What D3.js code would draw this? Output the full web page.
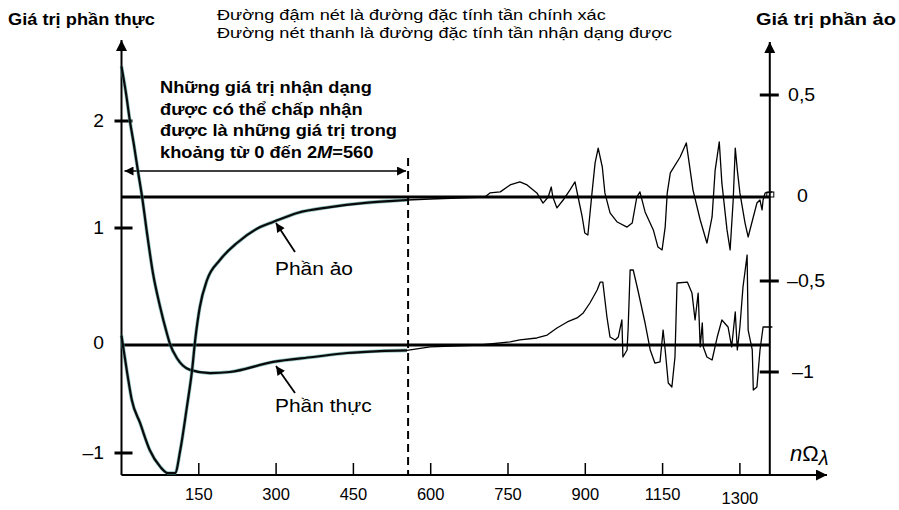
<!DOCTYPE html>
<html><head><meta charset="utf-8">
<script src="https://cdn.jsdelivr.net/npm/d3@7"></script>
<style>
html,body{margin:0;padding:0;background:#fff;}
svg{display:block;}
text{font-family:"Liberation Sans",Arial,sans-serif;fill:#000;}
</style></head>
<body>
<svg id="chart" width="899" height="510"></svg>
<script>
// ---- data ----
const xTickVals = [150, 300, 450, 600, 750, 900, 1050, 1200];
const xTickLabels = ["150", "300", "450", "600", "750", "900", "1150", "1300"];
const realTickVals = [2, 1, 0, -1];
const realTickLabels = ["2", "1", "0", "\u20131"];
const imagTickVals = [0.5, 0, -0.5, -1];
const imagTickLabels = ["0,5", "0", "\u20130,5", "\u20131"];
const limitN = 560;

// exact (thick) real part
const realExactN = [0, 9, 16, 24, 32, 40, 50, 61, 75, 88, 94, 108, 119, 133, 172, 210, 294, 372, 438, 502, 554];
const realExactV = [2.51, 2.25, 2.01, 1.78, 1.53, 1.29, 0.94, 0.615, 0.325, 0.10, 0.01, -0.125, -0.19, -0.23, -0.26, -0.25, -0.157, -0.111, -0.074, -0.056, -0.05];
// exact (thick) imaginary part
const imagExactN = [0, 11, 20, 36, 55, 75, 90, 104, 114, 127, 137, 143, 152, 166, 191, 224, 269, 294, 341, 405, 469, 521, 554];
const imagExactV = [-0.80, -1.005, -1.154, -1.28, -1.43, -1.52, -1.555, -1.555, -1.43, -1.19, -0.989, -0.824, -0.643, -0.494, -0.375, -0.274, -0.179, -0.149, -0.095, -0.060, -0.036, -0.024, -0.018];

// identified (thin) part beyond the exact range
const realIdentN = [554, 599, 696, 754, 773, 806, 826, 845, 865, 884, 896, 909, 923, 929, 934, 942, 948, 958, 964, 971, 973, 981, 983, 987, 993, 1002, 1016, 1026, 1035, 1045, 1051, 1055, 1061, 1068, 1074, 1078, 1098, 1107, 1113, 1119, 1123, 1127, 1129, 1136, 1146, 1156, 1165, 1177, 1184, 1191, 1195, 1200, 1206, 1214, 1216, 1224, 1226, 1233, 1239, 1245, 1263];
const realIdentV = [-0.05, -0.018, 0, 0.026, 0.043, 0.060, 0.085, 0.145, 0.197, 0.231, 0.274, 0.359, 0.470, 0.538, 0.538, 0.239, 0.068, 0.043, 0.068, 0.214, -0.111, -0.046, 0.128, 0.641, 0.641, 0.470, 0.188, -0.046, -0.167, -0.157, 0.128, -0.046, -0.352, -0.389, -0.111, 0.530, 0.538, 0.444, 0.214, 0.444, -0.018, 0.188, -0.018, -0.111, -0.139, 0.068, 0.214, 0.154, -0.018, 0.282, -0.046, 0.154, 0.496, 0.769, 0.128, -0.046, -0.417, -0.389, -0.046, 0.154, 0.154];
const imagIdentN = [554, 599, 705, 715, 735, 754, 773, 787, 806, 818, 828, 834, 837, 845, 857, 870, 880, 886, 894, 899, 905, 913, 919, 925, 933, 938, 948, 962, 981, 991, 1000, 1006, 1016, 1032, 1041, 1049, 1055, 1059, 1065, 1084, 1096, 1109, 1123, 1136, 1146, 1152, 1160, 1165, 1175, 1181, 1187, 1191, 1195, 1200, 1210, 1216, 1226, 1233, 1239, 1243, 1245, 1249, 1263];
const imagIdentV = [-0.018, -0.012, 0, 0.020, 0.025, 0.059, 0.074, 0.059, 0.020, -0.036, 0, 0.049, 0, -0.065, -0.018, 0.034, 0.074, 0, -0.119, -0.214, -0.226, 0.020, 0.167, 0.24, 0.147, 0.020, -0.095, -0.149, -0.179, -0.155, 0, 0.025, -0.089, -0.196, -0.298, -0.315, -0.179, 0.020, 0.118, 0.196, 0.265, 0.034, -0.137, -0.274, -0.119, 0.132, 0.27, 0.069, -0.196, -0.315, -0.018, 0.24, 0.132, 0.020, -0.155, -0.238, -0.119, -0.036, -0.018, -0.077, -0.018, 0.020, 0.025];

// ---- scales ----
const svg = d3.select("#chart");
svg.append("rect").attr("width", 899).attr("height", 510).attr("fill", "#fff");
const x = d3.scaleLinear().domain([0, 1200]).range([121.5, 739.9]);
const yReal = d3.scaleLinear().domain([-1, 0, 1, 2]).range([453, 345, 228, 121]);
const yImag = d3.scaleLinear().domain([-1, -0.5, 0, 0.5]).range([372, 281, 197, 95]);
const xAxisEnd = 1369, xRightAxis = 1258;
const yBottom = 475, yTop = 40;

// horizontal stretch helper (reference font is wider than Arial)
function stretchTo(sel, ax, target) {
  const w = sel.node().getBBox().width;
  const s = target / w;
  sel.attr("transform", `translate(${ax},0) scale(${s},1) translate(${-ax},0)`);
  return s;
}
function stretchBy(sel, ax, s) {
  sel.attr("transform", `translate(${ax},0) scale(${s},1) translate(${-ax},0)`);
}

const defs = svg.append("defs");
defs.append("marker").attr("id", "ah").attr("viewBox", "0 0 10 10").attr("refX", 10).attr("refY", 5)
  .attr("markerWidth", 13).attr("markerHeight", 11).attr("markerUnits", "userSpaceOnUse").attr("orient", "auto-start-reverse")
  .append("path").attr("d", "M0,0 L10,5 L0,10 Z").attr("fill", "#000");
defs.append("marker").attr("id", "ahs").attr("viewBox", "0 0 10 10").attr("refX", 10).attr("refY", 5)
  .attr("markerWidth", 12).attr("markerHeight", 9).attr("markerUnits", "userSpaceOnUse").attr("orient", "auto-start-reverse")
  .append("path").attr("d", "M0,0 L10,5 L0,10 Z").attr("fill", "#000");

// ---- axes ----
const x0 = x(0);
svg.append("line").attr("x1", x0).attr("x2", x0).attr("y1", yBottom).attr("y2", yTop)
  .attr("stroke", "#000").attr("stroke-width", 2).attr("marker-end", "url(#ah)");
svg.append("line").attr("x1", x0).attr("x2", x(xAxisEnd)).attr("y1", yBottom).attr("y2", yBottom)
  .attr("stroke", "#000").attr("stroke-width", 2).attr("marker-end", "url(#ah)");
svg.append("line").attr("x1", x(xRightAxis)).attr("x2", x(xRightAxis)).attr("y1", yBottom).attr("y2", yTop + 2)
  .attr("stroke", "#000").attr("stroke-width", 2).attr("marker-end", "url(#ah)");

// bottom ticks
svg.selectAll(".xt").data(xTickVals).enter().append("line")
  .attr("x1", d => x(d)).attr("x2", d => x(d)).attr("y1", yBottom - 12).attr("y2", yBottom)
  .attr("stroke", "#000").attr("stroke-width", 1.5);
svg.selectAll(".xl").data(xTickVals).enter().append("text")
  .attr("x", d => x(d)).attr("y", (d, i) => i === xTickVals.length - 1 ? 504 : 500)
  .attr("text-anchor", "middle").attr("font-size", 16.5)
  .text((d, i) => xTickLabels[i]);

// left ticks
svg.selectAll(".rt").data(realTickVals.filter(d => d !== 0)).enter().append("line")
  .attr("x1", x0 - 7).attr("x2", x0 + 11).attr("y1", d => yReal(d)).attr("y2", d => yReal(d))
  .attr("stroke", "#000").attr("stroke-width", 3);
svg.selectAll(".rl").data(realTickVals).enter().append("text")
  .attr("x", 104).attr("y", d => yReal(d) + 6 - (d === 0 ? 2 : 0))
  .attr("text-anchor", "end").attr("font-size", 17.5)
  .text((d, i) => realTickLabels[i])
  .each(function () { stretchBy(d3.select(this), 104, 1.1); });

// right ticks
const xr = x(xRightAxis);
const imagLabelX = { "0.5": 788, "0": 797, "-0.5": 787, "-1": 792 };
svg.selectAll(".it").data(imagTickVals.filter(d => d !== 0)).enter().append("line")
  .attr("x1", xr - 10).attr("x2", xr + 9).attr("y1", d => yImag(d)).attr("y2", d => yImag(d))
  .attr("stroke", "#000").attr("stroke-width", 3);
svg.selectAll(".il").data(imagTickVals).enter().append("text")
  .attr("x", d => imagLabelX[String(d)])
  .attr("y", d => yImag(d) + 6.5 - (d === 0 ? 1.5 : 0))
  .attr("font-size", 17.5)
  .text((d, i) => imagTickLabels[i])
  .each(function (d) { stretchBy(d3.select(this), imagLabelX[String(d)], 1.12); });

// zero lines
svg.append("line").attr("x1", x0).attr("x2", xr).attr("y1", yImag(0)).attr("y2", yImag(0))
  .attr("stroke", "#000").attr("stroke-width", 3);
svg.append("line").attr("x1", x0).attr("x2", xr).attr("y1", yReal(0)).attr("y2", yReal(0))
  .attr("stroke", "#000").attr("stroke-width", 3);
// tiny box at end of imag zero line
svg.append("rect").attr("x", xr - 3).attr("y", yImag(0) - 5).attr("width", 7).attr("height", 5)
  .attr("fill", "none").attr("stroke", "#000").attr("stroke-width", 1);

// dashed limit line
svg.append("line").attr("x1", x(limitN) - 2).attr("x2", x(limitN) - 2).attr("y1", 158).attr("y2", yBottom)
  .attr("stroke", "#000").attr("stroke-width", 2).attr("stroke-dasharray", "8,5");

// double arrow
svg.append("line").attr("x1", x(limitN) - 4).attr("x2", x0 + 3).attr("y1", 171).attr("y2", 171)
  .attr("stroke", "#000").attr("stroke-width", 1.3)
  .attr("marker-start", "url(#ahs)").attr("marker-end", "url(#ahs)");

// ---- curves ----
const zip = (a, b) => a.map((d, i) => [d, b[i]]);
const lineR = d3.line().x(d => x(d[0])).y(d => yReal(d[1]));
const lineI = d3.line().x(d => x(d[0])).y(d => yImag(d[1]));
const smoothR = d3.line().x(d => x(d[0])).y(d => yReal(d[1])).curve(d3.curveMonotoneX);
const smoothI = d3.line().x(d => x(d[0])).y(d => yImag(d[1])).curve(d3.curveMonotoneX);

// thin identified
svg.append("path").attr("d", lineR(zip(realIdentN, realIdentV))).attr("fill", "none")
  .attr("stroke", "#000").attr("stroke-width", 1.3).attr("stroke-linejoin", "round");
svg.append("path").attr("d", lineI(zip(imagIdentN, imagIdentV))).attr("fill", "none")
  .attr("stroke", "#000").attr("stroke-width", 1.3).attr("stroke-linejoin", "round");

// thick exact
[[smoothR, zip(realExactN, realExactV)], [smoothI, zip(imagExactN, imagExactV)]].forEach(([fn, data]) => {
  svg.append("path").attr("d", fn(data)).attr("fill", "none").attr("stroke", "#4a9a9a").attr("stroke-width", 3.6).attr("stroke-opacity", 0.6);
  svg.append("path").attr("d", fn(data)).attr("fill", "none").attr("stroke", "#0a0a0a").attr("stroke-width", 2.2);
});

// ---- annotations ----
svg.append("line").attr("x1", 295).attr("y1", 252).attr("x2", 276).attr("y2", 223)
  .attr("stroke", "#000").attr("stroke-width", 1.8).attr("marker-end", "url(#ahs)");
svg.append("line").attr("x1", 295).attr("y1", 393).attr("x2", 276).attr("y2", 366)
  .attr("stroke", "#000").attr("stroke-width", 1.8).attr("marker-end", "url(#ahs)");
const pA = svg.append("text").attr("x", 275).attr("y", 275).attr("font-size", 18).text("Phần ảo");
const sP = stretchTo(pA, 275, 78);
const pT = svg.append("text").attr("x", 275).attr("y", 412).attr("font-size", 18).text("Phần thực");
stretchBy(pT, 275, sP);

const note = ["Những giá trị nhận dạng", "được có thể chấp nhận", "được là những giá trị trong"];
let sN = 1;
note.forEach((t, i) => {
  const s = svg.append("text").attr("x", 160).attr("y", 93 + i * 21.7)
    .attr("font-size", 17).attr("font-weight", "bold").text(t);
  if (i === 0) sN = stretchTo(s, 160, 212); else stretchBy(s, 160, sN);
});
const l4 = svg.append("text").attr("x", 160).attr("y", 158).attr("font-size", 17).attr("font-weight", "bold");
l4.append("tspan").text("khoảng từ 0 đến 2");
l4.append("tspan").attr("font-style", "italic").text("M");
l4.append("tspan").text("=560");
stretchBy(l4, 160, sN);

const t1 = svg.append("text").attr("x", 8).attr("y", 25).attr("font-size", 17).attr("font-weight", "bold").text("Giá trị phần thực");
stretchTo(t1, 8, 147);
const t2 = svg.append("text").attr("x", 756).attr("y", 25).attr("font-size", 17).attr("font-weight", "bold").text("Giá trị phần ảo");
stretchTo(t2, 756, 140);
const h2 = svg.append("text").attr("x", 217).attr("y", 38).attr("font-size", 15.5).text("Đường nét thanh là đường đặc tính tần nhận dạng được");
const sH = stretchTo(h2, 217, 456);
const h1 = svg.append("text").attr("x", 217).attr("y", 20).attr("font-size", 15.5).text("Đường đậm nét là đường đặc tính tần chính xác");
stretchBy(h1, 217, sH);

const nl = svg.append("text").attr("x", 790).attr("y", 461).attr("font-family", "Liberation Serif, Times New Roman, serif").attr("font-size", 22);
nl.append("tspan").attr("font-style", "italic").text("n");
nl.append("tspan").text("Ω");
nl.append("tspan").attr("font-style", "italic").attr("font-size", 20).attr("dy", 4).text("λ");
</script>
</body></html>
